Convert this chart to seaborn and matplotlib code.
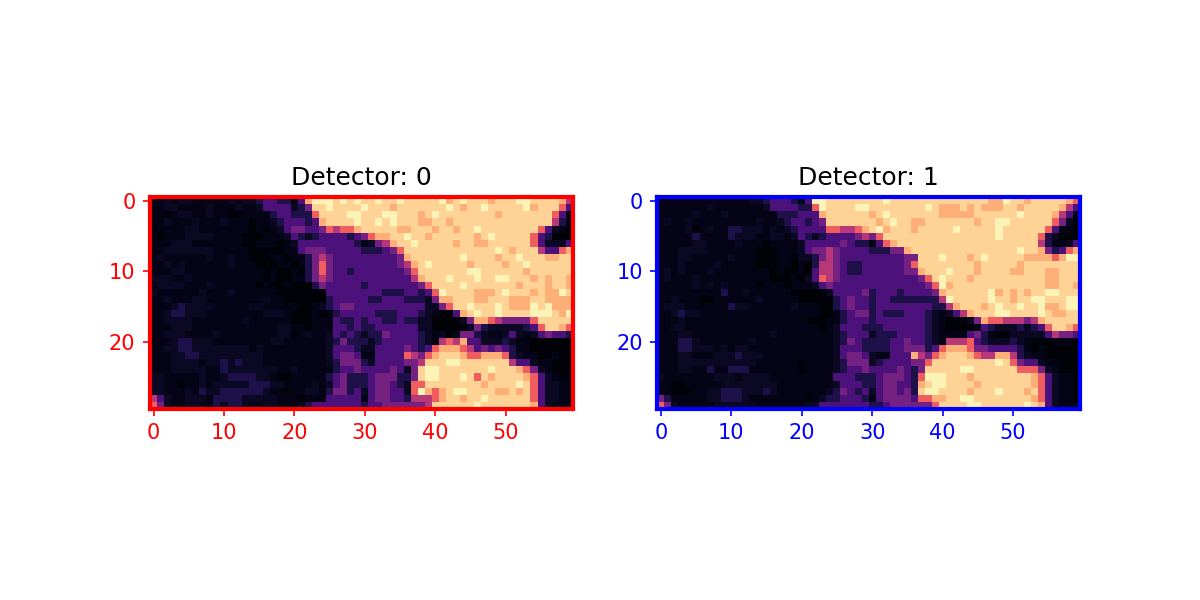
import numpy as np
import matplotlib
matplotlib.use("Agg")
import matplotlib.pyplot as plt
import seaborn as sns

# one character per pixel, see level_values for the intensity of each
level_values = {"0": 0.015, "1": 0.04, "2": 0.065, "3": 0.13, "4": 0.24, "5": 0.34,
                "6": 0.50, "7": 0.66, "8": 0.83, "9": 0.91, "a": 0.98}

detector_0 = [
    "11212211111212234433148aaa9a9a" "99a99a9999" "9a89a99989" "99aa999986",
    "11221111211121124444235" "99a9999" "a999899999" "99a9899a99" "999a899974",
    "11012211211001111" "344333" "7" "9999" "aa" "999aa99989" "a999999998" "9999999741",
    "11211121112111011" "2344434" "89999a" "99a9a99988" "9989999999" "9999999631",
    "011112211111110101" "245544576778" "9999988999" "899899a999" "9999974210",
    "1011122221111000111" "24323444434" "578899a998" "99999989a9" "9999743000",
    "11122211111110011101" "2444444443" "1256899a99" "9998998899" "9999742224",
    "112222222111110000011" "455544444" "3334579999" "999999999a" "9899964478",
    "1211111121121100011011" "35654444" "4444458999" "9999a99998" "99a9998899",
    "1121211111121110001101" "35754444" "444445689a" "9999989999" "899a999999",
    "1112211111111111010010" "35754434" "4444445799" "99999aa999" "9998999999",
    "2221121111111111010011" "35654444" "4444444689" "99a999a99a" "a999898998",
    "12222111211111101001000" "3544444" "3444444457" "9999a99999" "9989998998",
    "2111111211121111110000000" "44444" "4443334434" "7a99998889" "a9998988a9",
    "1121112211111111211000000" "34444" "4334443332" "5889998899" "9888998888",
    "1112322221111122111110012" "34554" "4444444442" "25799a999a" "9888a9a888",
    "1123322211111111222100010" "13444" "4433344432" "100489a99a" "9999aaa98a",
    "1122221111111211111100011" "14334" "3443343322" "0000258876" "5555799999",
    "1112221111111111112211011" "14434" "3344444422" "0000025322" "2223479987",
    "1122211112111111112201211" "24343" "2335444432" "1201553211" "2421245443",
    "1112332221111111122111111" "23533" "3234444432" "1676844222" "3211000000",
    "1122332222222212111111111" "24443" "2244445434" "7888764545" "4311000000",
    "1112233222222222111111111" "24554" "1144447657" "8999877888" "7321100100",
    "1112222122323222111111111" "23555" "3244445569" "99aa999999" "9644211000",
    "1112222211322222221121111" "13445" "444454259a" "a9999999a9" "9987521000",
    "2211111211233332210011111" "34533" "345553359a" "a999a97989" "9998742101",
    "2211011212222233322111121" "24533" "3455432779" "9999999899" "99a9742211",
    "2211121322333333211011221" "35534" "24554427a8" "789aa99998" "8989742211",
    "6421122213333222221110111" "44444" "1455443666" "7899899a99" "9999742211",
    "7521122113233211221112344" "44444" "3445555556" "999999a999" "9999842111",
]

detector_1 = [
    "11111111111112" "23444314" "aa999999" "99a9999999" "999999988a" "9989999987",
    "11111112111111" "12444433" "7a9999aa" "99999999a9" "8889898889" "9899999864",
    "11111211121111111" "333444" "8" "999999" "89a9999999" "8888899999" "9a99998641",
    "12112111111111211" "2344345" "999999" "989a998899" "99999899aa" "9999997520",
    "1111201211" "33222121" "234444776678" "9a89998999" "99a99999a9" "9999974110",
    "1111131111" "322211221" "24323444456" "5799999999" "99999999a9" "9999732000",
    "11111221111211101111" "2444445433" "1478999999" "9999999999" "9999631124",
    "111222211111110001112" "455654444" "3335589999" "9999999999" "9a99853478",
    "11122111112111000110" "22" "35654444" "4444455999" "a99989a999" "99888878aa",
    "1112111121111100011010" "36654334" "4444457999" "9999989999" "9899999999",
    "1212111211111111010010" "46654334" "4444455899" "9a99989999" "8899988999",
    "1211121111111111000102" "47654444" "4444444579" "a999899999" "9999988999",
    "1111121212111101110111" "24544444" "4444444457" "a899999999" "9999988998",
    "111111111" "3" "11" "2" "111111" "00000" "244445" "3444344445" "8999999a89" "89899aa999",
    "1121110011111121111100000" "34544" "3443333333" "6a99999a99" "899aa999aa",
    "1222111111322111111211100" "34544" "3444444443" "36899989a9" "9a99a889aa",
    "112322" "11111111111111111" "00" "13455" "3433344432" "12468999aa" "9999a98899",
    "1112111111111111111110001" "13444" "3444444432" "1000258776" "6656899999",
    "1122" "1111111111" "111111111" "01" "24443" "3344444432" "1000014322" "2323479987",
    "11122" "11111111111" "2" "11111111" "23444" "2333444432" "1111453100" "2222246554",
    "1113321111111211111111111" "23543" "3334454432" "1666743222" "3210001110",
    "1113322212122111111111111" "24443" "3334455534" "7888755444" "4310100000",
    "1112211122232221111111111" "24554" "2114448657" "8999876688" "6321100000",
    "1112222222222211111101111" "23555" "2344445579" "99999999a9" "7544211000",
    "1112211311333111111101111" "23445" "4444543599" "999aa99999" "9777521000",
    "2111111122212222111111111" "44433" "34555437aa" "a999899999" "9998742110",
    "1100111112222222211111111" "24443" "345544389a" "a999989999" "9998742110",
    "1100011223332223211111112" "35434" "24554539aa" "99998999a9" "9989742110",
    "5311111223332111111110123" "34443" "1455554778" "899aa99999" "9998742110",
    "7521111122222211111112244" "44444" "3345555557" "9999aa9999" "99a9842111",
]

detector_names = ["Detector: 0", "Detector: 1"]
frame_colors = ["red", "blue"]
x_tick_labels = [0, 10, 20, 30, 40, 50]
y_tick_labels = [0, 10, 20]


def to_image(rows):
    return np.array([[level_values[c] for c in row] for row in rows])


fig, axes = plt.subplots(1, 2, figsize=(8, 4))

for ax, rows, name, color in zip(axes, [detector_0, detector_1], detector_names, frame_colors):
    sns.heatmap(to_image(rows), ax=ax, cmap="magma", vmin=0, vmax=1, cbar=False, square=True)
    ax.set_title(name)
    ax.set_xticks(np.array(x_tick_labels) + 0.5, labels=x_tick_labels, rotation=0)
    ax.set_yticks(np.array(y_tick_labels) + 0.5, labels=y_tick_labels, rotation=0)
    # heatmap centres the labels differently from a plain axes
    plt.setp(ax.get_yticklabels(), va="center_baseline")
    ax.tick_params(colors=color)
    for spine in ax.spines.values():
        spine.set_visible(True)
        spine.set_color(color)
        spine.set_linewidth(2)

fig.savefig("out.png", dpi=150)
